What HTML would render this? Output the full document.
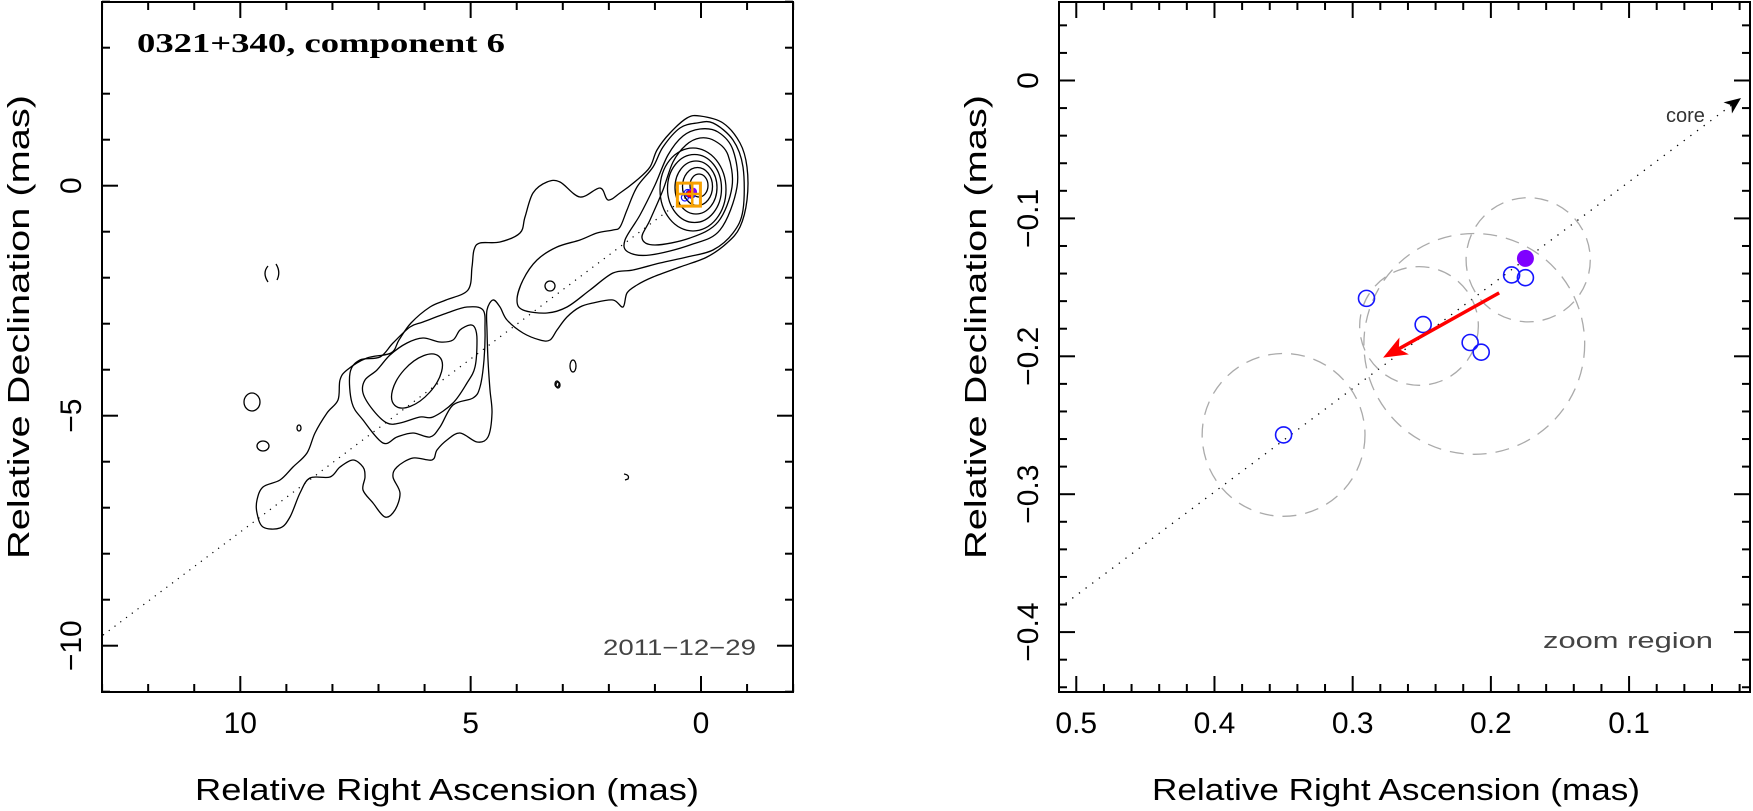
<!DOCTYPE html>
<html><head><meta charset="utf-8"><style>
html,body{margin:0;padding:0;background:#fff;}
svg{display:block;}
text{font-family:"Liberation Sans",sans-serif;}
</style></head><body>
<svg id="fig" width="1753" height="811" viewBox="0 0 1753 811" xmlns="http://www.w3.org/2000/svg">
<g id="left"></g>
<g id="right"></g>
</svg>
<script>
// ---- data (right panel, in mas) ----
const compRA  = [0.350, 0.290, 0.249, 0.215, 0.207, 0.185, 0.175];
const compDec = [-0.257, -0.158, -0.177, -0.190, -0.197, -0.141, -0.143];
const coreCompRA = [0.175];
const coreCompDec = [-0.129];
const circRA  = [0.350, 0.212, 0.252, 0.173];
const circDec = [-0.257, -0.191, -0.178, -0.130];
const circR   = [0.059, 0.080, 0.043, 0.045];
const arrowRA  = [0.194, 0.278];
const arrowDec = [-0.154, -0.201];
const lineRA  = [0.5125, 0.019];
const lineDec = [-0.3827, -0.0127];
const rXTicks = [0.5, 0.4, 0.3, 0.2, 0.1];
const rXLabels = ["0.5","0.4","0.3","0.2","0.1"];
const rYTicks = [0, -0.1, -0.2, -0.3, -0.4];
const rYLabels = ["0","\u22120.1","\u22120.2","\u22120.3","\u22120.4"];
const lXTicks = [10, 5, 0];
const lXLabels = ["10","5","0"];
const lYTicks = [0, -5, -10];
const lYLabels = ["0","\u22125","\u221210"];
const lLineRA = [12.98, 0.3];
const lLineDec = [-9.77, -0.23];

const NS="http://www.w3.org/2000/svg";
function mk(parent, tag, attrs){const e=document.createElementNS(NS,tag);for(const k in attrs)e.setAttribute(k,attrs[k]);parent.appendChild(e);return e;}

const lx=v=>701-46.07*v, ly=v=>185.7-46*v;
const rx=v=>1059+(0.5125-v)*1382, ry=v=>80.5-1379*v;

const L=document.getElementById('left'), R=document.getElementById('right');

function smooth(pts,closed){
  const n=pts.length;let d="M"+pts[0][0]+","+pts[0][1];
  const g=i=>closed?pts[(i+n)%n]:pts[Math.max(0,Math.min(n-1,i))];
  const m=closed?n:n-1;
  for(let i=0;i<m;i++){const p0=g(i-1),p1=g(i),p2=g(i+1),p3=g(i+2);
    d+=" C"+(p1[0]+(p2[0]-p0[0])/6).toFixed(1)+","+(p1[1]+(p2[1]-p0[1])/6).toFixed(1)+" "+(p2[0]-(p3[0]-p1[0])/6).toFixed(1)+","+(p2[1]-(p3[1]-p1[1])/6).toFixed(1)+" "+p2[0]+","+p2[1];}
  return d+(closed?"Z":"");
}

const cont=mk(L,'g',{fill:'none',stroke:'#000','stroke-width':1.3});


const L1=[[700,116],[687,118],[670,133],[657,150],[650,167],[637,180],[620,193],[608,200],[600,188],[580,197],[560,182],[547,182],[533,193],[525,217],[520,233],[500,242],[480,243],[474,250],[472,267],[468,290],[446,300],[430,307],[411,323],[399,340],[391,353],[367,358],[347,370],[340,380],[338,400],[327,413],[315,433],[307,453],[293,467],[280,480],[263,487],[257,500],[257,513],[263,527],[280,528],[290,517],[300,493],[310,478],[330,477],[340,467],[353,460],[363,467],[365,477],[363,490],[373,503],[385,517],[395,510],[400,493],[393,477],[397,467],[413,458],[432,460],[437,450],[447,440],[460,433],[477,442],[488,437],[492,413],[490,390],[488,360],[487,330],[487,310],[493,300],[500,307],[507,320],[523,333],[540,340],[550,340],[557,330],[567,317],[580,307],[593,303],[613,300],[623,307],[627,293],[637,285],[653,277],[680,267],[707,257],[727,243],[740,227],[747,200],[747,167],[740,143],[723,123]];
const L2=[[697,123],[680,128],[663,147],[653,167],[637,187],[627,210],[620,227],[613,230],[597,233],[580,240],[557,247],[537,260],[523,280],[517,300],[523,310],[547,313],[567,307],[590,290],[613,273],[633,270],[660,263],[687,257],[713,250],[733,233],[743,210],[743,167],[733,140],[713,123]];
const B1=[[483,310],[467,307],[447,313],[423,322],[410,327],[393,343],[380,357],[360,360],[350,373],[352,403],[363,420],[383,443],[397,437],[413,433],[430,437],[440,427],[453,405],[473,398],[480,387],[484,360],[485,330]];
const B2=[[470,325],[460,330],[453,340],[440,342],[423,338],[407,343],[390,355],[377,370],[365,380],[363,393],[373,410],[387,423],[400,423],[420,417],[433,417],[453,403],[467,383],[475,367],[477,340],[475,328]];
const R6=[[737,187],[733,150],[718,132],[700,129],[683,136],[668,155],[655,185],[640,215],[625,240],[628,252],[650,255],[690,245],[720,230]];
const R5=[[732,187],[728,155],[715,141],[700,138],[686,145],[673,162],[663,190],[650,220],[642,238],[655,245],[690,238],[718,222]];
[L1,L2,B1,B2,R6,R5].forEach(p=>{const e=mk(cont,'path',{d:smooth(p,true)});

});
for(let j=0;j<5;j++){const e=mk(cont,'ellipse',{cx:699-1.5*j,cy:185.5+j,rx:9+6*j,ry:11.5+7.5*j});

}
const b3=mk(cont,'ellipse',{cx:417,cy:381,rx:33,ry:17,transform:'rotate(-48 417 381)'});


[[252,402,8,9],[263,446,6,5],[550,286,5,5],[573,366,3,6],[299,428,2,3],[557,384,2,3],[558,385,2,3]].forEach(c=>{const e=mk(cont,'ellipse',{cx:c[0],cy:c[1],rx:c[2],ry:c[3]});

});
mk(cont,'path',{d:'M268,266 Q262,273 268,282 M276,264 Q281,272 277,280'});
mk(cont,'path',{d:'M624,474 Q630,475 628,479 L625,480'});

const ld=mk(L,'line',{x1:lx(lLineRA[0]),y1:ly(lLineDec[0]),x2:lx(lLineRA[1]),y2:ly(lLineDec[1]),stroke:'#000','stroke-width':1.2,'stroke-dasharray':'1.2 6'});



const zb=mk(L,'rect',{x:lx(0.5125),y:ly(0.0562),width:lx(0.0125)-lx(0.5125),height:ly(-0.4438)-ly(0.0562),fill:'none',stroke:'#f7a000','stroke-width':3});


for(let i=0;i<compRA.length;i++){const c=mk(L,'circle',{cx:lx(compRA[i]),cy:ly(compDec[i]),r:3.5,fill:'none',stroke:'#1010ff','stroke-width':1.2});

}
const cc=mk(L,'circle',{cx:lx(coreCompRA[0]),cy:ly(coreCompDec[0]),r:4,fill:'#7f00ff'});


mk(L,'circle',{cx:lx(0.24),cy:ly(-0.18),r:3.5,fill:'#ff0000'});
mk(L,'line',{x1:lx(0.19),y1:ly(0.0562),x2:lx(0.19),y2:ly(-0.4438),stroke:'#f7a000','stroke-width':2.5});
mk(L,'line',{x1:lx(0.5125),y1:ly(-0.18),x2:lx(0.0125),y2:ly(-0.18),stroke:'#f7a000','stroke-width':2.5});

function frame(G,x0,x1,y0,y1){const f=mk(G,'rect',{x:x0,y:y0,width:x1-x0,height:y1-y0,fill:'none',stroke:'#000','stroke-width':2});

}
frame(L,102,793,2,692);
const tg=mk(L,'g',{stroke:'#000','stroke-width':2});
for(let v=-2;v<=13;v++){const x=lx(v),len=(v%5===0)?16:8;
 mk(tg,'line',{x1:x,y1:692,x2:x,y2:692-len});mk(tg,'line',{x1:x,y1:2,x2:x,y2:2+len});}
for(let v=-11;v<=4;v++){const y=ly(v),len=(v%5===0)?16:8;
 mk(tg,'line',{x1:102,y1:y,x2:102+len,y2:y});mk(tg,'line',{x1:793,y1:y,x2:793-len,y2:y});}
lXTicks.forEach((v,i)=>{const t=mk(L,'text',{x:lx(v),y:733,'font-size':30,'text-anchor':'middle'});t.textContent=lXLabels[i];

});
lYTicks.forEach((v,i)=>{const t=mk(L,'text',{x:81,y:ly(v),'font-size':30,'text-anchor':'middle',transform:`rotate(-90 81 ${ly(v)})`});t.textContent=lYLabels[i];

});
</script>
<script>
(function(){
const L=document.getElementById('left');
const NS="http://www.w3.org/2000/svg";
function mk(p,tag,a){const e=document.createElementNS(NS,tag);for(const k in a)e.setAttribute(k,a[k]);p.appendChild(e);return e;}
let t=mk(L,'text',{x:137,y:52,'font-size':27,'font-weight':'bold',textLength:368,lengthAdjust:'spacingAndGlyphs',style:'font-family:"Liberation Serif",serif'});t.textContent='0321+340, component 6';


t=mk(L,'text',{x:603,y:655,'font-size':22,fill:'#444',textLength:153,lengthAdjust:'spacingAndGlyphs'});t.textContent='2011\u221212\u221229';


t=mk(L,'text',{x:447,y:800,'font-size':31,'text-anchor':'middle',textLength:504,lengthAdjust:'spacingAndGlyphs'});t.textContent='Relative Right Ascension (mas)';


t=mk(L,'text',{x:29,y:327,'font-size':31,'text-anchor':'middle',transform:'rotate(-90 29 327)',textLength:464,lengthAdjust:'spacingAndGlyphs'});t.textContent='Relative Declination (mas)';


})();
</script>
<script>
(function(){
const NS="http://www.w3.org/2000/svg";
function mk(p,tag,a){const e=document.createElementNS(NS,tag);for(const k in a)e.setAttribute(k,a[k]);p.appendChild(e);return e;}
const R=document.getElementById('right');
const rx=v=>1059+(0.5125-v)*1382, ry=v=>80.5-1379*v;
const dl=mk(R,'line',{x1:rx(lineRA[0]),y1:ry(lineDec[0]),x2:rx(lineRA[1]),y2:ry(lineDec[1]),stroke:'#000','stroke-width':1.3,'stroke-dasharray':'1.3 7'});


const x2=rx(lineRA[1]),y2=ry(lineDec[1]);const ang=Math.atan2(y2-ry(lineDec[0]),x2-rx(lineRA[0]));
const ah=(a,l)=>[x2-l*Math.cos(ang+a),y2-l*Math.sin(ang+a)];
const p1=ah(0.4,18),p2=ah(-0.4,18),p3=ah(0,12);
const arr=mk(R,'polygon',{points:`${x2},${y2} ${p1} ${p3} ${p2}`,fill:'#000'});


let t=mk(R,'text',{x:1666,y:122,'font-size':20,fill:'#333'});t.textContent='core';


t=mk(R,'text',{x:1543,y:648,'font-size':22,fill:'#444',textLength:170,lengthAdjust:'spacingAndGlyphs'});t.textContent='zoom region';


for(let i=0;i<circRA.length;i++){const c=mk(R,'circle',{cx:rx(circRA[i]),cy:ry(circDec[i]),r:circR[i]*1380,fill:'none',stroke:'#aaa','stroke-width':1.3,'stroke-dasharray':'14 9'});

}
for(let i=0;i<compRA.length;i++){const c=mk(R,'circle',{cx:rx(compRA[i]),cy:ry(compDec[i]),r:8,fill:'none',stroke:'#1515ff','stroke-width':1.6});

}
const f=mk(R,'circle',{cx:rx(coreCompRA[0]),cy:ry(coreCompDec[0]),r:8.5,fill:'#7f00ff'});


const ax1=rx(arrowRA[0]),ay1=ry(arrowDec[0]),ax2=rx(arrowRA[1]),ay2=ry(arrowDec[1]);
const a=Math.atan2(ay2-ay1,ax2-ax1);
const hb=(o,l)=>[ax2-l*Math.cos(a+o),ay2-l*Math.sin(a+o)];
const ra=mk(R,'line',{x1:ax1,y1:ay1,x2:hb(0,14)[0],y2:hb(0,14)[1],stroke:'#ff0000','stroke-width':3.5});


const rh=mk(R,'polygon',{points:`${ax2},${ay2} ${hb(0.38,26)} ${hb(0,18)} ${hb(-0.38,26)}`,fill:'#ff0000'});


const fr=mk(R,'rect',{x:1059,y:2,width:691,height:690,fill:'none',stroke:'#000','stroke-width':2});


const tg=mk(R,'g',{stroke:'#000','stroke-width':2});
for(let k=1;k<=25;k++){const v=k*0.02,x=rx(v),len=(k%5===0)?16:8;
 mk(tg,'line',{x1:x,y1:692,x2:x,y2:692-len});mk(tg,'line',{x1:x,y1:2,x2:x,y2:2+len});}
for(let k=-22;k<=2;k++){const v=k*0.02,y=ry(v),len=(k%5===0)?16:8;
 mk(tg,'line',{x1:1059,y1:y,x2:1059+len,y2:y});mk(tg,'line',{x1:1750,y1:y,x2:1750-len,y2:y});}
rXTicks.forEach((v,i)=>{const t=mk(R,'text',{x:rx(v),y:733,'font-size':30,'text-anchor':'middle'});t.textContent=rXLabels[i];

});
rYTicks.forEach((v,i)=>{const y=ry(v);const t=mk(R,'text',{x:1038,y:y,'font-size':30,'text-anchor':'middle',transform:`rotate(-90 1038 ${y})`});t.textContent=rYLabels[i];

});
t=mk(R,'text',{x:1396,y:800,'font-size':31,'text-anchor':'middle',textLength:488,lengthAdjust:'spacingAndGlyphs'});t.textContent='Relative Right Ascension (mas)';


t=mk(R,'text',{x:986,y:327,'font-size':31,'text-anchor':'middle',transform:'rotate(-90 986 327)',textLength:464,lengthAdjust:'spacingAndGlyphs'});t.textContent='Relative Declination (mas)';


})();
</script>
</body></html>
